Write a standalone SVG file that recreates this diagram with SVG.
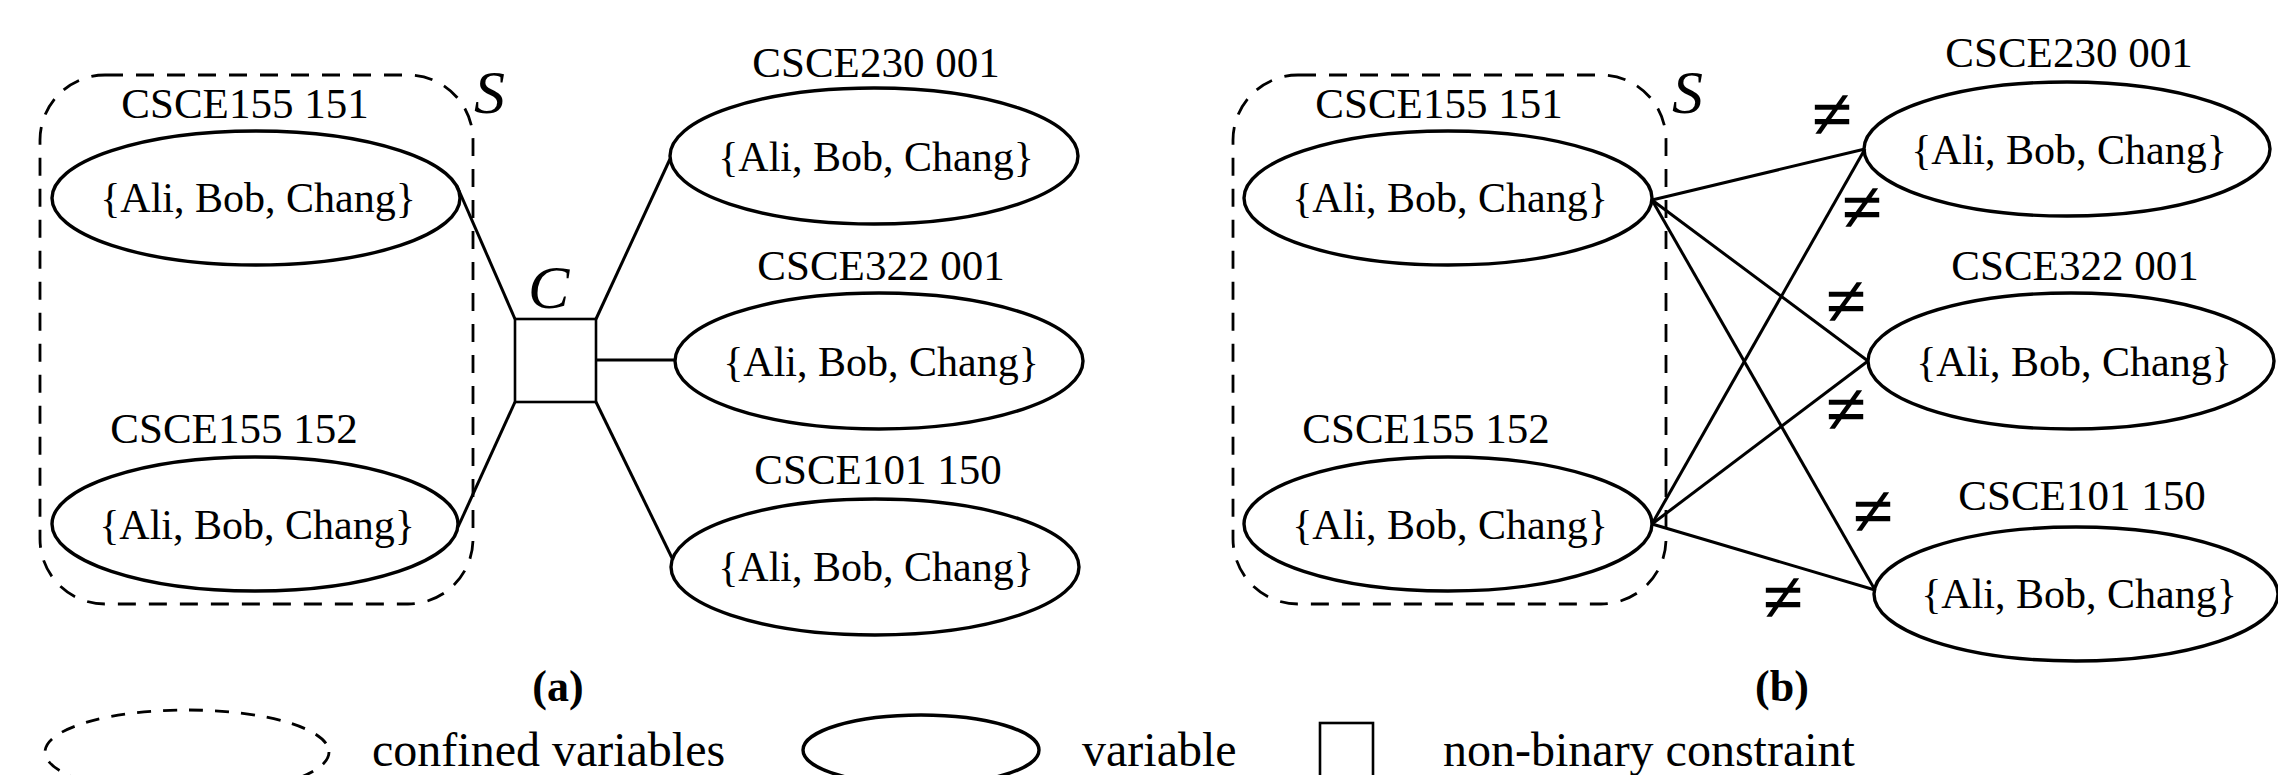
<svg xmlns="http://www.w3.org/2000/svg" width="2278" height="775" viewBox="0 0 2278 775">
<style>
.bg{fill:#fff}
.var{fill:none;stroke:#000;stroke-width:3.4}
.conf{fill:none;stroke:#000;stroke-width:2.8;stroke-dasharray:18 13}
.con{fill:none;stroke:#000;stroke-width:3}
.box{fill:#fff;stroke:#000;stroke-width:2.6}
.t{font-family:"Liberation Serif","Times New Roman",serif;fill:#000}
.lab{font-size:43px;text-anchor:middle}
.dom{font-size:42px;text-anchor:middle}
.it{font-size:62px;font-style:italic}
.ne{font-family:"Liberation Serif","DejaVu Serif",serif;font-size:74px;font-weight:bold;text-anchor:middle;fill:#000}
.cap{font-size:44px;font-weight:bold;text-anchor:middle}
.leg{font-size:48px}
</style>
<rect class="bg" x="0" y="0" width="2278" height="775"/>

<!-- Panel (a) -->
<g id="a-confined">
  <rect class="conf" x="40" y="75" width="433" height="529" rx="65" ry="65"/>
  <text class="t it" x="474" y="113">S</text>
</g>
<g id="a-connectors">
  <line class="con" x1="457" y1="186" x2="515" y2="319"/>
  <line class="con" x1="458" y1="527" x2="515" y2="402"/>
  <line class="con" x1="596" y1="319" x2="670" y2="159"/>
  <line class="con" x1="596" y1="360" x2="675" y2="360"/>
  <line class="con" x1="596" y1="402" x2="673" y2="560"/>
</g>
<g id="a-CSCE155-151">
  <text class="t lab" x="245" y="118">CSCE155 151</text>
  <ellipse class="var" cx="256" cy="198" rx="204" ry="67"/>
  <text class="t dom" x="258" y="212">{Ali, Bob, Chang}</text>
</g>
<g id="a-CSCE155-152">
  <text class="t lab" x="234" y="443">CSCE155 152</text>
  <ellipse class="var" cx="255" cy="524" rx="203" ry="67"/>
  <text class="t dom" x="257" y="539">{Ali, Bob, Chang}</text>
</g>
<g id="a-constraint-C">
  <rect class="box" x="515" y="319" width="81" height="83"/>
  <text class="t it" x="528" y="308">C</text>
</g>
<g id="a-CSCE230-001">
  <text class="t lab" x="876" y="77">CSCE230 001</text>
  <ellipse class="var" cx="874" cy="156" rx="204" ry="68"/>
  <text class="t dom" x="876" y="171">{Ali, Bob, Chang}</text>
</g>
<g id="a-CSCE322-001">
  <text class="t lab" x="881" y="280">CSCE322 001</text>
  <ellipse class="var" cx="879" cy="361" rx="204" ry="68"/>
  <text class="t dom" x="881" y="376">{Ali, Bob, Chang}</text>
</g>
<g id="a-CSCE101-150">
  <text class="t lab" x="878" y="484">CSCE101 150</text>
  <ellipse class="var" cx="875" cy="567" rx="204" ry="68"/>
  <text class="t dom" x="876" y="581">{Ali, Bob, Chang}</text>
</g>
<text class="t cap" x="558" y="701">(a)</text>

<!-- Panel (b) -->
<g id="b-confined">
  <rect class="conf" x="1233" y="75" width="433" height="529" rx="65" ry="65"/>
  <text class="t it" x="1672" y="113">S</text>
</g>
<g id="b-connectors">
  <line class="con" x1="1652" y1="200" x2="1865" y2="149"/>
  <line class="con" x1="1652" y1="200" x2="1868" y2="361"/>
  <line class="con" x1="1652" y1="200" x2="1875" y2="590"/>
  <line class="con" x1="1652" y1="524" x2="1865" y2="149"/>
  <line class="con" x1="1652" y1="524" x2="1868" y2="361"/>
  <line class="con" x1="1652" y1="524" x2="1875" y2="590"/>
  <text class="ne" x="1832" y="139">≠</text>
  <text class="ne" x="1862" y="232">≠</text>
  <text class="ne" x="1846" y="326">≠</text>
  <text class="ne" x="1846" y="434">≠</text>
  <text class="ne" x="1873" y="536">≠</text>
  <text class="ne" x="1783" y="622">≠</text>
</g>
<g id="b-CSCE155-151">
  <text class="t lab" x="1439" y="118">CSCE155 151</text>
  <ellipse class="var" cx="1448" cy="198" rx="204" ry="67"/>
  <text class="t dom" x="1450" y="212">{Ali, Bob, Chang}</text>
</g>
<g id="b-CSCE155-152">
  <text class="t lab" x="1426" y="443">CSCE155 152</text>
  <ellipse class="var" cx="1448" cy="524" rx="204" ry="67"/>
  <text class="t dom" x="1450" y="539">{Ali, Bob, Chang}</text>
</g>
<g id="b-CSCE230-001">
  <text class="t lab" x="2069" y="67">CSCE230 001</text>
  <ellipse class="var" cx="2067" cy="149" rx="203" ry="67"/>
  <text class="t dom" x="2069" y="164">{Ali, Bob, Chang}</text>
</g>
<g id="b-CSCE322-001">
  <text class="t lab" x="2075" y="280">CSCE322 001</text>
  <ellipse class="var" cx="2071" cy="361" rx="203" ry="68"/>
  <text class="t dom" x="2074" y="376">{Ali, Bob, Chang}</text>
</g>
<g id="b-CSCE101-150">
  <text class="t lab" x="2082" y="510">CSCE101 150</text>
  <ellipse class="var" cx="2076" cy="594" rx="202" ry="67"/>
  <text class="t dom" x="2079" y="608">{Ali, Bob, Chang}</text>
</g>
<text class="t cap" x="1782" y="701">(b)</text>

<!-- Legend -->
<g id="legend">
  <ellipse class="conf" cx="187" cy="752" rx="142" ry="42" style="stroke-dasharray:14 12"/>
  <text class="t leg" x="372" y="766">confined variables</text>
  <ellipse class="var" cx="921" cy="750" rx="118" ry="35"/>
  <text class="t leg" x="1082" y="766">variable</text>
  <rect class="box" x="1320" y="723" width="53" height="70"/>
  <text class="t leg" x="1443" y="766">non-binary constraint</text>
</g>
</svg>
